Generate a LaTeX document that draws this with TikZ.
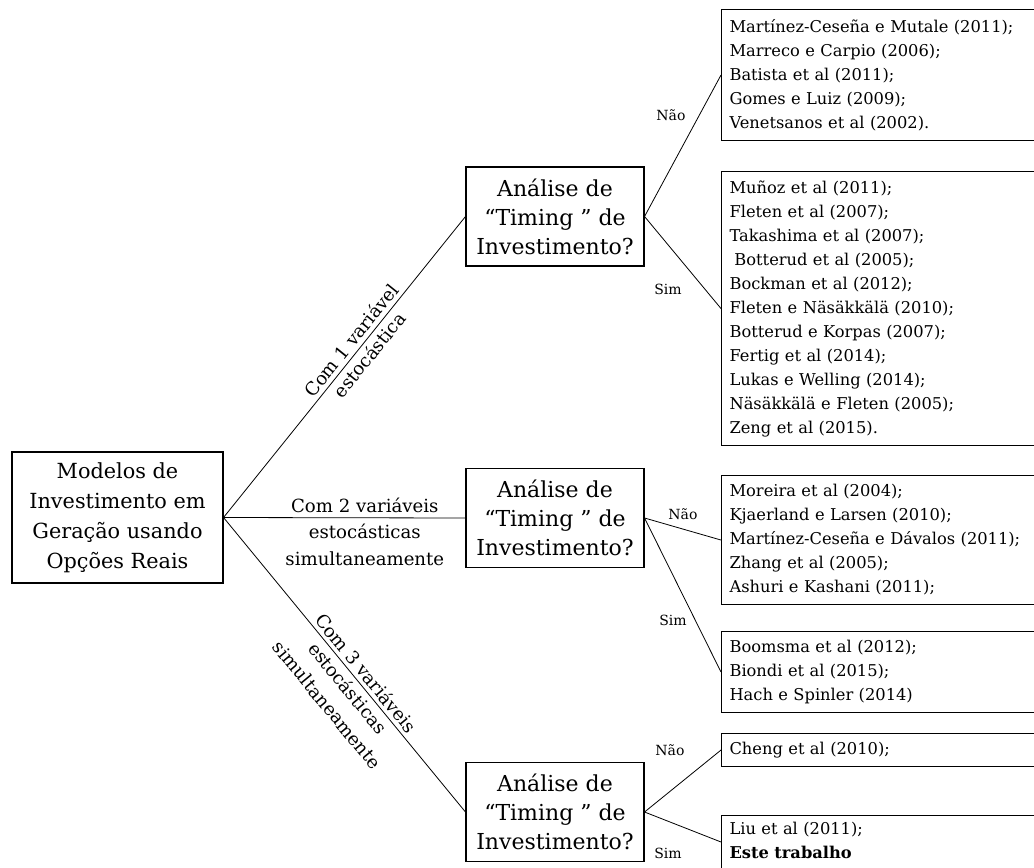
\documentclass[tikz,border=0pt]{standalone}
\usepackage{fontspec}
\setmainfont{DejaVu Serif}
\begin{document}
\begin{tikzpicture}[x=0.75pt,y=-0.75pt,
  conn/.style={line width=0.6pt},
  refbox/.style={draw, line width=0.8pt, anchor=north west, align=left, inner xsep=6pt, inner ysep=0pt, text width=227pt, font=\fontsize{12.2}{18}\selectfont},
  qbox/.style={draw, line width=0.8pt, align=center, minimum width=133.5pt, minimum height=74.25pt, inner sep=0pt, font=\fontsize{16.5}{21.75}\selectfont},
  rootbox/.style={draw, line width=0.8pt, align=center, minimum width=158.25pt, minimum height=98.25pt, inner sep=0pt, font=\fontsize{15.6}{22.5}\selectfont},
  blabel/.style={font=\fontsize{13.6}{20}\selectfont, align=center, inner sep=2pt},
  yn/.style={font=\fontsize{10.5}{12}\selectfont, inner sep=0pt}
]
\useasboundingbox (0,0) rectangle (1034,867);

\node[rootbox] (root) at (117.5,517.5) {Modelos de\\Investimento em\\Geração usando\\Opções Reais};

\node[qbox] (t1) at (555,216.5) {Análise de\\“Timing ” de\\Investimento?};
\node[qbox] (t2) at (555,518) {Análise de\\“Timing ” de\\Investimento?};
\node[qbox] (t3) at (555,812) {Análise de\\“Timing ” de\\Investimento?};

\node[refbox, minimum height=98.25pt] (a) at (721,9) {Martínez-Ceseña e Mutale (2011);\\Marreco e Carpio (2006);\\Batista et al (2011);\\Gomes e Luiz (2009);\\Venetsanos et al (2002).};
\node[refbox, minimum height=205.5pt] (b) at (721,171) {Muñoz et al (2011);\\Fleten et al (2007);\\Takashima et al (2007);\\\hspace*{0.3em}Botterud et al (2005);\\Bockman et al (2012);\\Fleten e Näsäkkälä (2010);\\Botterud e Korpas (2007);\\Fertig et al (2014);\\Lukas e Welling (2014);\\Näsäkkälä e Fleten (2005);\\Zeng et al (2015).};
\node[refbox, minimum height=96.75pt] (c) at (721,475) {Moreira et al (2004);\\Kjaerland e Larsen (2010);\\Martínez-Ceseña e Dávalos (2011);\\Zhang et al (2005);\\Ashuri e Kashani (2011);};
\node[refbox, minimum height=60.75pt] (d) at (721,631) {Boomsma et al (2012);\\Biondi et al (2015);\\Hach e Spinler (2014)};
\node[refbox, minimum height=24.75pt] (e) at (721,733) {Cheng et al (2010);};
\node[refbox, minimum height=55.5pt] (f) at (721,815) {Liu et al (2011);\\\textbf{Este trabalho}\\\mbox{}};
\coordinate (fin) at (721,842);

\draw[conn] (root.east) -- node[blabel, sloped, above=1pt, pos=0.565] (l1a) {Com 1 variável} node[blabel, sloped, below=1pt, pos=0.565] (l1b) {estocástica} (t1.west);
\draw[conn] (root.east) -- node[blabel, above=1.5pt, pos=0.584] (l2a) {Com 2 variáveis} node[blabel, below=2.5pt, pos=0.584] (l2b) {estocásticas\\simultaneamente} (t2.west);
\draw[conn] (root.east) -- node[blabel, sloped, above=1pt, pos=0.553] (l3a) {Com 3 variáveis} node[blabel, sloped, below=1pt, pos=0.553] (l3b) {estocásticas\\simultaneamente} (t3.west);

\draw[conn] (t1.east) -- (a.west);
\draw[conn] (t1.east) -- (b.west);
\draw[conn] (t2.east) -- (c.west);
\draw[conn] (t2.east) -- (d.west);
\draw[conn] (t3.east) -- (e.west);
\draw[conn] (t3.east) -- (fin);

\node[yn] (n1) at (671,115) {Não};
\node[yn] (s1) at (668,289) {Sim};
\node[yn] (n2) at (683,514) {Não};
\node[yn] (s2) at (673,620) {Sim};
\node[yn] (n3) at (670,750) {Não};
\node[yn] (s3) at (668,853) {Sim};
\end{tikzpicture}
\end{document}
